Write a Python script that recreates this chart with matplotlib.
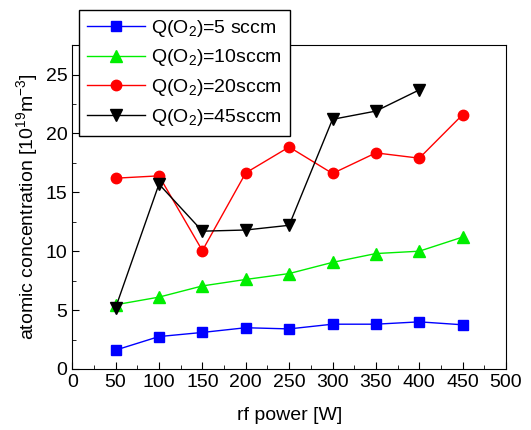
import matplotlib
matplotlib.use("Agg")
import matplotlib.pyplot as plt
from matplotlib.ticker import MultipleLocator

plt.rcParams['font.family'] = ['Liberation Sans', 'DejaVu Sans']
plt.rcParams['mathtext.fontset'] = 'custom'
plt.rcParams['mathtext.rm'] = 'Liberation Sans'
plt.rcParams['mathtext.it'] = 'Liberation Sans'

power = [50, 100, 150, 200, 250, 300, 350, 400, 450]
q5 = [1.6, 2.75, 3.1, 3.5, 3.4, 3.8, 3.8, 4.0, 3.75]
q10 = [5.45, 6.1, 7.05, 7.6, 8.1, 9.05, 9.8, 10.0, 11.2]
q20 = [16.2, 16.4, 10.05, 16.65, 18.85, 16.6, 18.35, 17.9, 21.6]
power45 = [50, 100, 150, 200, 250, 300, 350, 400]
q45 = [5.2, 15.7, 11.7, 11.8, 12.2, 21.2, 21.9, 23.7]

fig = plt.figure(figsize=(5.31, 4.30), dpi=100)
ax = fig.add_axes([0.136, 0.142, 0.817, 0.753])

ax.plot(power, q5, color='blue', lw=1, marker='s', ms=6.5, label=r'Q(O$_2$)=5 sccm')
ax.plot(power, q10, color='#00ee00', lw=1, marker='^', ms=8, label=r'Q(O$_2$)=10sccm')
ax.plot(power, q20, color='red', lw=1, marker='o', ms=7.5, label=r'Q(O$_2$)=20sccm')
ax.plot(power45, q45, color='black', lw=1, marker='v', ms=8, label=r'Q(O$_2$)=45sccm')

ax.set_xlim(0, 500)
ax.set_ylim(0, 27.5)
ax.xaxis.set_major_locator(MultipleLocator(50))
ax.xaxis.set_minor_locator(MultipleLocator(25))
ax.yaxis.set_major_locator(MultipleLocator(5))
ax.yaxis.set_minor_locator(MultipleLocator(2.5))
ax.tick_params(which='both', direction='in', labelsize=14)
ax.tick_params(which='major', length=5)
ax.tick_params(which='minor', length=3)

ax.set_xlabel('rf power [W]', fontsize=14, labelpad=12)
ax.set_ylabel(r'atomic concentration [10$^{19}$m$^{-3}$]', fontsize=14, labelpad=4)

leg = fig.legend(loc='upper left', bbox_to_anchor=(0.149, 0.977), fontsize=14,
                 frameon=True, fancybox=False, edgecolor='black', framealpha=1,
                 borderaxespad=0, handlelength=3.0, labelspacing=0.45,
                 handletextpad=0.3)
leg.get_frame().set_linewidth(1)

fig.savefig('out.png', dpi=100)
